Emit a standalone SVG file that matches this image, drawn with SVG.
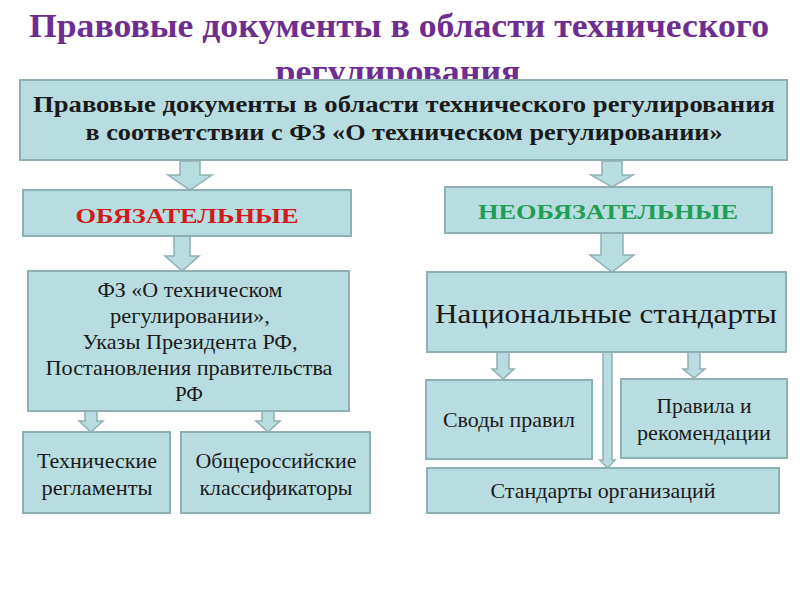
<svg xmlns="http://www.w3.org/2000/svg" width="800" height="600" viewBox="0 0 800 600">
<style>
.box{fill:#b8dde0;stroke:#8fb0b3;stroke-width:2}
.arr{fill:#b8dde0;stroke:#8fb0b3;stroke-width:1.5;stroke-linejoin:miter}
text{font-family:"Liberation Serif","Times New Roman",serif;text-anchor:middle;fill:#1a1a1a}
.title{font-size:33px;font-weight:bold;fill:#6e2e91}
.hdr{font-size:23px;font-weight:bold}
.t{font-size:21px}
</style>
<rect width="800" height="600" fill="#ffffff"/>
<g id="title">
<text class="title" x="399" y="37" textLength="740" lengthAdjust="spacingAndGlyphs">Правовые документы в области технического</text>
<text class="title" x="398" y="83" textLength="245" lengthAdjust="spacingAndGlyphs">регулирования</text>
</g>
<g id="connectors">
<polygon class="arr" points="180,161 200,161 200,175 212,175 190,190 168,175 180,175"/>
<polygon class="arr" points="602,161 622,161 622,175 633,175 612,187 591,175 602,175"/>
<polygon class="arr" points="174,236 190,236 190,256 199,256 182,271 165,256 174,256"/>
<polygon class="arr" points="601,233 623,233 623,255 634,255 612,272 590,255 601,255"/>
<polygon class="arr" points="85,411 97,411 97,421 103,421 91,432 79,421 85,421"/>
<polygon class="arr" points="262,411 274,411 274,421 280,421 268,432 256,421 262,421"/>
<polygon class="arr" points="497,352 509,352 509,369 514,369 503,379 492,369 497,369"/>
<polygon class="arr" points="688,352 700,352 700,369 705,369 694,378 683,369 688,369"/>
<polygon class="arr" points="603,352 612,352 612,460 615,460 607.5,468 600,460 603,460"/>
</g>
<g id="root">
<rect class="box" x="20" y="80" width="767" height="80"/>
<text class="hdr" x="404" y="112" textLength="742" lengthAdjust="spacingAndGlyphs">Правовые документы в области технического  регулирования</text>
<text class="hdr" x="404" y="140" textLength="637" lengthAdjust="spacingAndGlyphs">в соответствии с ФЗ «О техническом регулировании»</text>
</g>
<g id="mandatory">
<rect class="box" x="23" y="190" width="328" height="46"/>
<text x="187" y="223" textLength="223" lengthAdjust="spacingAndGlyphs" style="font-size:22px;font-weight:bold;fill:#d21a1a">ОБЯЗАТЕЛЬНЫЕ</text>
</g>
<g id="optional">
<rect class="box" x="445" y="187" width="327" height="46"/>
<text x="608" y="219" textLength="260" lengthAdjust="spacingAndGlyphs" style="font-size:22px;font-weight:bold;fill:#1f9e55">НЕОБЯЗАТЕЛЬНЫЕ</text>
</g>
<g id="laws">
<rect class="box" x="28" y="271" width="321" height="140"/>
<text class="t" x="190" y="297" textLength="185" lengthAdjust="spacingAndGlyphs">ФЗ «О техническом</text>
<text class="t" x="190" y="323" textLength="160" lengthAdjust="spacingAndGlyphs">регулировании»,</text>
<text class="t" x="190" y="349" textLength="215" lengthAdjust="spacingAndGlyphs">Указы Президента РФ,</text>
<text class="t" x="189" y="375" textLength="287" lengthAdjust="spacingAndGlyphs">Постановления правительства</text>
<text class="t" x="189" y="401" textLength="28" lengthAdjust="spacingAndGlyphs">РФ</text>
</g>
<g id="tech-reg">
<rect class="box" x="23" y="432" width="147" height="81"/>
<text class="t" x="97" y="468" textLength="120" lengthAdjust="spacingAndGlyphs">Технические</text>
<text class="t" x="97" y="495" textLength="111" lengthAdjust="spacingAndGlyphs">регламенты</text>
</g>
<g id="classifiers">
<rect class="box" x="181" y="432" width="189" height="81"/>
<text class="t" x="276" y="468" textLength="161" lengthAdjust="spacingAndGlyphs">Общероссийские</text>
<text class="t" x="276" y="495" textLength="153" lengthAdjust="spacingAndGlyphs">классификаторы</text>
</g>
<g id="national">
<rect class="box" x="427" y="272" width="359" height="80"/>
<text x="606" y="323" textLength="342" lengthAdjust="spacingAndGlyphs" style="font-size:27px">Национальные стандарты</text>
</g>
<g id="codes">
<rect class="box" x="426" y="380" width="166" height="79"/>
<text class="t" x="509" y="427" textLength="132" lengthAdjust="spacingAndGlyphs">Своды правил</text>
</g>
<g id="rules">
<rect class="box" x="621" y="379" width="166" height="79"/>
<text class="t" x="704" y="413" textLength="95" lengthAdjust="spacingAndGlyphs">Правила и</text>
<text class="t" x="704" y="440" textLength="134" lengthAdjust="spacingAndGlyphs">рекомендации</text>
</g>
<g id="org">
<rect class="box" x="427" y="468" width="352" height="45"/>
<text class="t" x="603" y="498" textLength="225" lengthAdjust="spacingAndGlyphs">Стандарты организаций</text>
</g>
</svg>
